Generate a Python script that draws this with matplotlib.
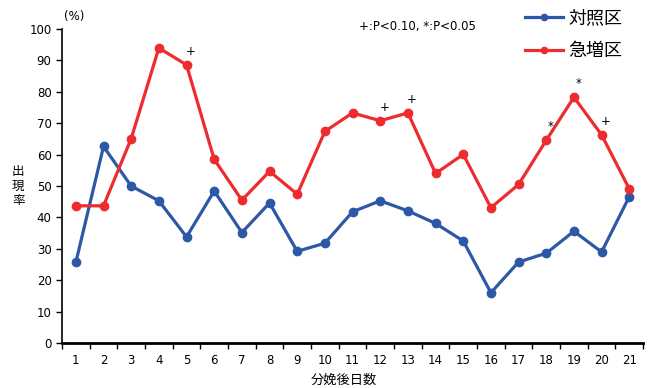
import matplotlib
matplotlib.use("Agg")
import matplotlib.pyplot as plt
from matplotlib.lines import Line2D
import numpy as np

plt.rcParams["font.family"] = ["Noto Sans CJK JP", "DejaVu Sans"]

days = list(range(1, 22))
control = [25.7, 62.6, 50.0, 45.3, 33.8, 48.4, 35.2, 44.6, 29.2, 31.8, 41.8,
           45.3, 42.1, 38.1, 32.5, 16.0, 25.8, 28.6, 35.6, 29.0, 46.6]
surge = [43.7, 43.7, 65.1, 94.0, 88.6, 58.5, 45.5, 54.7, 47.4, 67.4, 73.3,
         70.8, 73.3, 54.0, 60.1, 43.1, 50.5, 64.6, 78.3, 66.3, 49.1]
sig_days = [5, 12, 13, 18, 19, 20]
sig_marks = ["+", "+", "+", "*", "*", "+"]

BLUE = "#2C58A6"
RED = "#EE2B2E"
LAT = ["DejaVu Sans"]

fig = plt.figure(figsize=(6.5, 3.88), dpi=100)
ax = fig.add_axes([0.0954, 0.116, 0.894, 0.809])

x = np.arange(len(days))
ax.plot(x, control, color=BLUE, lw=2.3, marker="o", ms=6)
ax.plot(x, surge, color=RED, lw=2.3, marker="o", ms=6)

for d, m in zip(sig_days, sig_marks):
    i = days.index(d)
    ax.annotate(m, (x[i], surge[i]), xytext=(3, 5), textcoords="offset points",
                ha="center", va="bottom", fontsize=8.5, family=LAT)

ax.set_xlim(-0.5, len(days) - 0.5)
ax.set_ylim(0, 100)
ax.set_yticks(range(0, 101, 10))
ax.set_xticks(x)
ax.set_xticklabels([str(d) for d in days])
ax.set_xticks(np.arange(-0.5, len(days), 1), minor=True)
ax.tick_params(axis="x", which="major", length=0, pad=8, labelsize=8.5)
ax.tick_params(axis="x", which="minor", length=4, direction="out", width=1)
ax.tick_params(axis="y", length=4, direction="out", labelsize=8.5, width=1)
for lab in ax.get_xticklabels() + ax.get_yticklabels():
    lab.set_family(LAT)

for s in ["top", "right"]:
    ax.spines[s].set_visible(False)
ax.spines["left"].set_linewidth(1.2)
ax.spines["bottom"].set_linewidth(2)

fig.text(0.529, 0.02, "分娩後日数", fontsize=9.5, ha="center", va="center")
fig.text(0.028, 0.52, "出\n現\n率", fontsize=9, ha="center", va="center",
         linespacing=1.15)
fig.text(0.098, 0.958, "(%)", fontsize=8.5, ha="left", va="center", family=LAT)
fig.text(0.553, 0.932, "+:P<0.10, *:P<0.05", fontsize=8.5, ha="left",
         va="center", family=LAT)

handles = [Line2D([], [], color=BLUE, lw=2.3, marker="o", ms=4.5),
           Line2D([], [], color=RED, lw=2.3, marker="o", ms=4.5)]
ax.legend(handles, ["対照区", "急増区"], loc="upper left",
          bbox_to_anchor=(0.805, 0.98), bbox_transform=fig.transFigure,
          frameon=False, fontsize=13, handlelength=2.1, handletextpad=0.3,
          labelspacing=0.8, borderaxespad=0, borderpad=0.1)

fig.savefig("out.png", dpi=100)
